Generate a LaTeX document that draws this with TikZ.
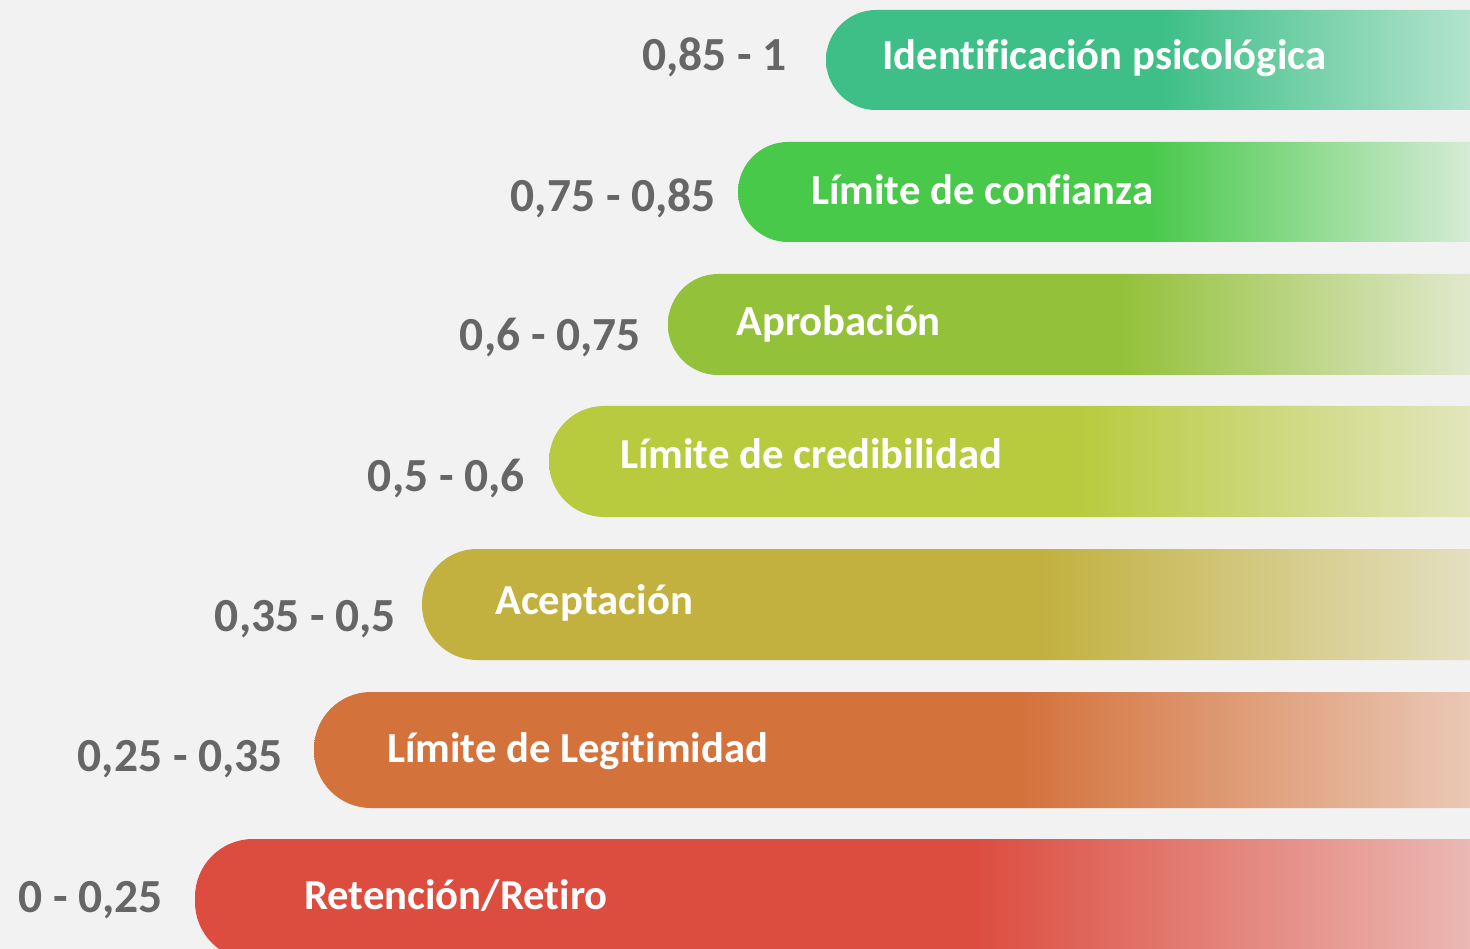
\documentclass[tikz,border=0pt]{standalone}
\usepackage{fontspec}
\setmainfont{Carlito}[Ligatures=NoCommon]
\usepackage{tikz}

\definecolor{bgGray}{HTML}{F2F2F2}
\definecolor{rangeGray}{HTML}{666666}
\definecolor{identC}{HTML}{3DBF87}  \definecolor{identL}{HTML}{B3E3CD}
\definecolor{confC}{HTML}{48C94A}   \definecolor{confL}{HTML}{D5EBD5}
\definecolor{aprobC}{HTML}{93C13A}  \definecolor{aprobL}{HTML}{E1E8CC}
\definecolor{credC}{HTML}{B8CB3F}   \definecolor{credL}{HTML}{E2E6BC}
\definecolor{acepC}{HTML}{C2B13F}   \definecolor{acepL}{HTML}{E4DFC0}
\definecolor{legC}{HTML}{D4723B}    \definecolor{legL}{HTML}{EAC8B5}
\definecolor{retC}{HTML}{DC4D40}    \definecolor{retL}{HTML}{EBB8B3}

% solid up to the fade start, then fading to the right end
\pgfdeclarehorizontalshading{identS}{100bp}{color(0bp)=(identC); color(50.93bp)=(identC); color(75bp)=(identL); color(100bp)=(identL)}
\pgfdeclarehorizontalshading{confS}{100bp}{color(0bp)=(confC); color(52.94bp)=(confC); color(75bp)=(confL); color(100bp)=(confL)}
\pgfdeclarehorizontalshading{aprobS}{100bp}{color(0bp)=(aprobC); color(53.18bp)=(aprobC); color(75bp)=(aprobL); color(100bp)=(aprobL)}
\pgfdeclarehorizontalshading{credS}{100bp}{color(0bp)=(credC); color(53.83bp)=(credC); color(75bp)=(credL); color(100bp)=(credL)}
\pgfdeclarehorizontalshading{acepS}{100bp}{color(0bp)=(acepC); color(54.48bp)=(acepC); color(75bp)=(acepL); color(100bp)=(acepL)}
\pgfdeclarehorizontalshading{legS}{100bp}{color(0bp)=(legC); color(55.54bp)=(legC); color(75bp)=(legL); color(100bp)=(legL)}
\pgfdeclarehorizontalshading{retS}{100bp}{color(0bp)=(retC); color(55.59bp)=(retC); color(75bp)=(retL); color(100bp)=(retL)}

\begin{document}
\begin{tikzpicture}[x=1pt, y=-1pt,
    bandtext/.style={anchor=base west, inner sep=0pt, text=white, font=\fontsize{42.7}{48}\selectfont\bfseries},
    rangetext/.style={anchor=base east, inner sep=0pt, text=rangeGray, font=\fontsize{47.5}{52}\selectfont\bfseries}]
    \fill[bgGray] (0,0) rectangle (1470,949);
    \clip (0,0) rectangle (1470,949);

    % bands with round left end
    \shade[shading=identS] (1470,10) [rounded corners=50] -- (826,10) -- (826,110) [sharp corners] -- (1470,110) -- cycle;
    \shade[shading=confS] (1470,142) [rounded corners=50] -- (738,142) -- (738,242) [sharp corners] -- (1470,242) -- cycle;
    \shade[shading=aprobS] (1470,274) [rounded corners=50] -- (668,274) -- (668,375) [sharp corners] -- (1470,375) -- cycle;
    \shade[shading=credS] (1470,406) [rounded corners=55] -- (549,406) -- (549,517) [sharp corners] -- (1470,517) -- cycle;
    \shade[shading=acepS] (1470,549) [rounded corners=55] -- (422,549) -- (422,660) [sharp corners] -- (1470,660) -- cycle;
    \shade[shading=legS] (1470,692) [rounded corners=57] -- (314,692) -- (314,808) [sharp corners] -- (1470,808) -- cycle;
    \shade[shading=retS] (1470,839) [rounded corners=58] -- (195,839) -- (195,960) [sharp corners] -- (1470,960) -- cycle;

    % band labels
    \node[bandtext] (ident) at (882,70) {Identificación psicológica};
    \node[bandtext] (conf) at (811,205) {Límite de confianza};
    \node[bandtext] (aprob) at (736,336) {Aprobación};
    \node[bandtext] (cred) at (620,468) {Límite de credibilidad};
    \node[bandtext] (acep) at (495,614) {Aceptación};
    \node[bandtext] (leg) at (387,762) {Límite de Legitimidad};
    \node[bandtext] (ret) at (304,909) {Retención/Retiro};

    % ranges
    \node[rangetext] (r1) at (787,71) {0,85 - 1};
    \node[rangetext] (r2) at (716,212) {0,75 - 0,85};
    \node[rangetext] (r3) at (641,351) {0,6 - 0,75};
    \node[rangetext] (r4) at (525,491) {0,5 - 0,6};
    \node[rangetext] (r5) at (396,631) {0,35 - 0,5};
    \node[rangetext] (r6) at (283,771) {0,25 - 0,35};
    \node[rangetext] (r7) at (163,912) {0 - 0,25};
\end{tikzpicture}
\end{document}
